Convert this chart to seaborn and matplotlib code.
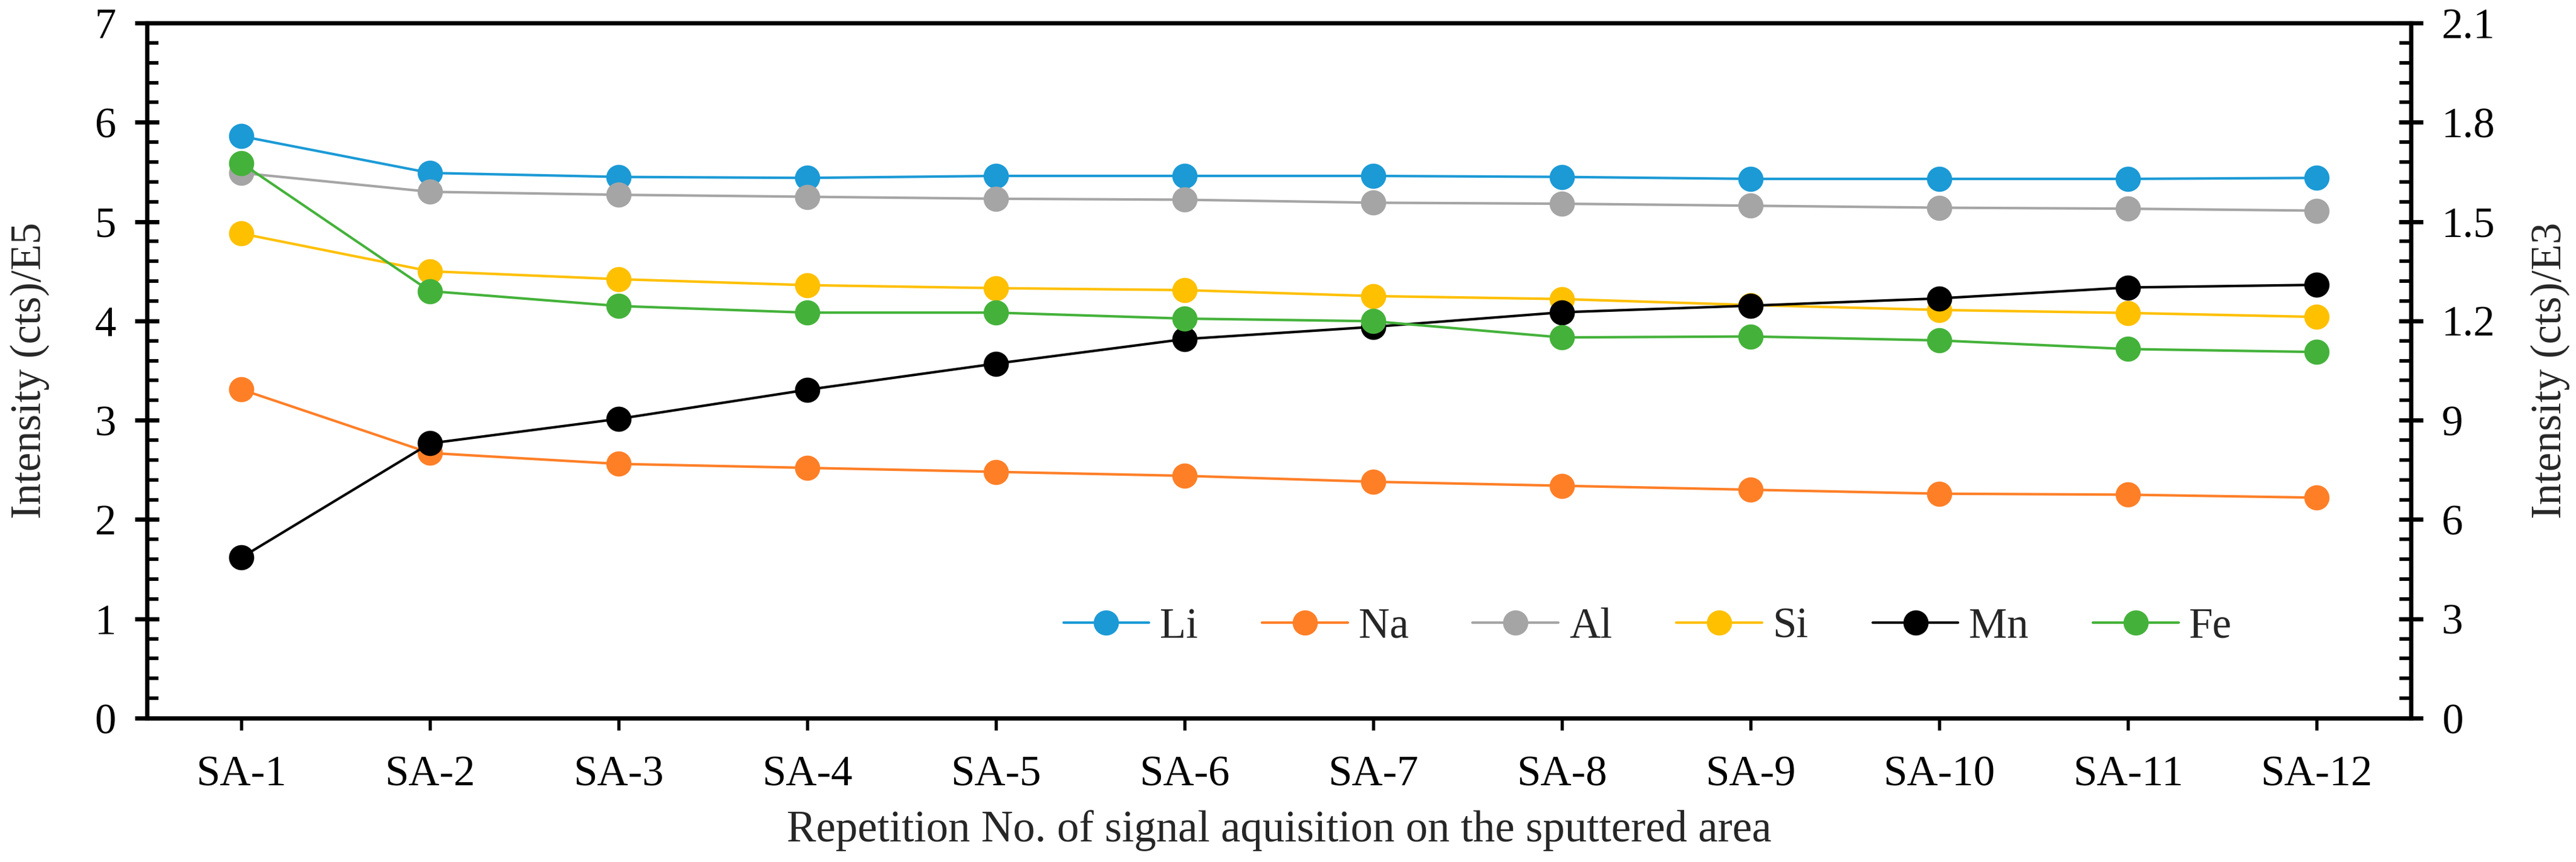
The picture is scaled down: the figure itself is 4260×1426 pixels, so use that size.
import numpy as np
import pandas as pd
import matplotlib
matplotlib.use("Agg")
import matplotlib.pyplot as plt
from matplotlib.ticker import MultipleLocator, FixedLocator
import seaborn as sns

# datos
muestras = ["SA-1", "SA-2", "SA-3", "SA-4", "SA-5", "SA-6",
            "SA-7", "SA-8", "SA-9", "SA-10", "SA-11", "SA-12"]
li = [5.86, 5.49, 5.45, 5.44, 5.46, 5.46, 5.46, 5.45, 5.43, 5.43, 5.43, 5.44]
na = [3.31, 2.67, 2.56, 2.52, 2.48, 2.44, 2.38, 2.34, 2.30, 2.26, 2.25, 2.22]
al = [5.49, 5.30, 5.27, 5.25, 5.23, 5.22, 5.19, 5.18, 5.16, 5.14, 5.13, 5.11]
si = [4.88, 4.50, 4.42, 4.36, 4.33, 4.31, 4.25, 4.22, 4.16, 4.11, 4.08, 4.04]
# eje secundario (E3)
mn = [0.485, 0.830, 0.904, 0.992, 1.071, 1.145, 1.182, 1.226, 1.246, 1.268, 1.301, 1.309]
fe = [1.677, 1.290, 1.245, 1.225, 1.225, 1.207, 1.199, 1.150, 1.153, 1.141, 1.115, 1.106]

ticks_izq = [0, 1, 2, 3, 4, 5, 6, 7]
etiquetas_izq = ["0", "1", "2", "3", "4", "5", "6", "7"]
ticks_der = [0, 0.3, 0.6, 0.9, 1.2, 1.5, 1.8, 2.1]
etiquetas_der = ["0", "3", "6", "9", "1.2", "1.5", "1.8", "2.1"]

colores = {"Li": "#1B9AD6", "Na": "#FF7F27", "Al": "#A5A5A5",
           "Si": "#FFC000", "Mn": "#000000", "Fe": "#44B23A"}

pos = np.arange(1, len(muestras) + 1)

sns.set_style("ticks")
plt.rcParams["font.family"] = ["Liberation Serif", "DejaVu Serif"]

fig = plt.figure(figsize=(14.2, 14.2 * 1426 / 4260), dpi=300)
ax = fig.add_axes([0.05704, 0.16690, 0.93592 - 0.05704, 0.97335 - 0.16690])
ax2 = ax.twinx()

fs = 17
estilo = dict(marker="o", markersize=10, markeredgewidth=0, linewidth=1.0)

for nombre, vals in [("Li", li), ("Na", na), ("Al", al), ("Si", si)]:
    sns.lineplot(x=pos, y=vals, ax=ax, color=colores[nombre], label=nombre, **estilo)
for nombre, vals in [("Mn", mn), ("Fe", fe)]:
    sns.lineplot(x=pos, y=vals, ax=ax2, color=colores[nombre], label=nombre, **estilo)

# ejes
ax.set_xlim(0.5, 12.5)
ax.set_ylim(0, 7)
ax2.set_ylim(0, 2.1)
ax.set_xticks(pos)
ax.set_xticklabels(muestras, fontsize=fs)
ax.yaxis.set_major_locator(FixedLocator(ticks_izq))
ax.yaxis.set_minor_locator(MultipleLocator(0.2))
ax.set_yticklabels(etiquetas_izq, fontsize=fs)
ax2.yaxis.set_major_locator(FixedLocator(ticks_der))
ax2.yaxis.set_minor_locator(MultipleLocator(0.06))
ax2.set_yticklabels(etiquetas_der, fontsize=fs)

for a in (ax, ax2):
    for s in a.spines.values():
        s.set_visible(True)
        s.set_linewidth(1.7)
        s.set_color("black")
ax.tick_params(axis="y", which="major", direction="inout", length=9.6, width=1.7, pad=7.4, colors="black")
ax.tick_params(axis="y", which="minor", direction="in", length=4.6, width=1.4, colors="black")
ax2.tick_params(axis="y", which="major", direction="inout", length=9.6, width=1.7, pad=7.4, colors="black")
ax2.tick_params(axis="y", which="minor", direction="in", length=4.6, width=1.4, colors="black")
ax.tick_params(axis="x", which="major", direction="out", length=4.8, width=1.3, pad=10, colors="black")
ax.tick_params(axis="x", which="minor", bottom=False)

ax.set_xlabel("Repetition No. of signal aquisition on the sputtered area", fontsize=17.5, labelpad=6)
ax.set_ylabel("Intensity (cts)/E5", fontsize=fs, labelpad=18)
ax2.set_ylabel("Intensity (cts)/E3", fontsize=fs, labelpad=14, rotation=90)

# leyenda combinada
h1, l1 = ax.get_legend_handles_labels()
h2, l2 = ax2.get_legend_handles_labels()
ax.get_legend().remove()
ax2.get_legend().remove()
ax2.legend(h1 + h2, l1 + l2, loc="center right", bbox_to_anchor=(0.921, 0.131),
           ncol=6, frameon=False, fontsize=fs, handlelength=2.0,
           handletextpad=0.25, columnspacing=1.5, borderpad=0, borderaxespad=0)

fig.savefig("out.png", dpi=300)
